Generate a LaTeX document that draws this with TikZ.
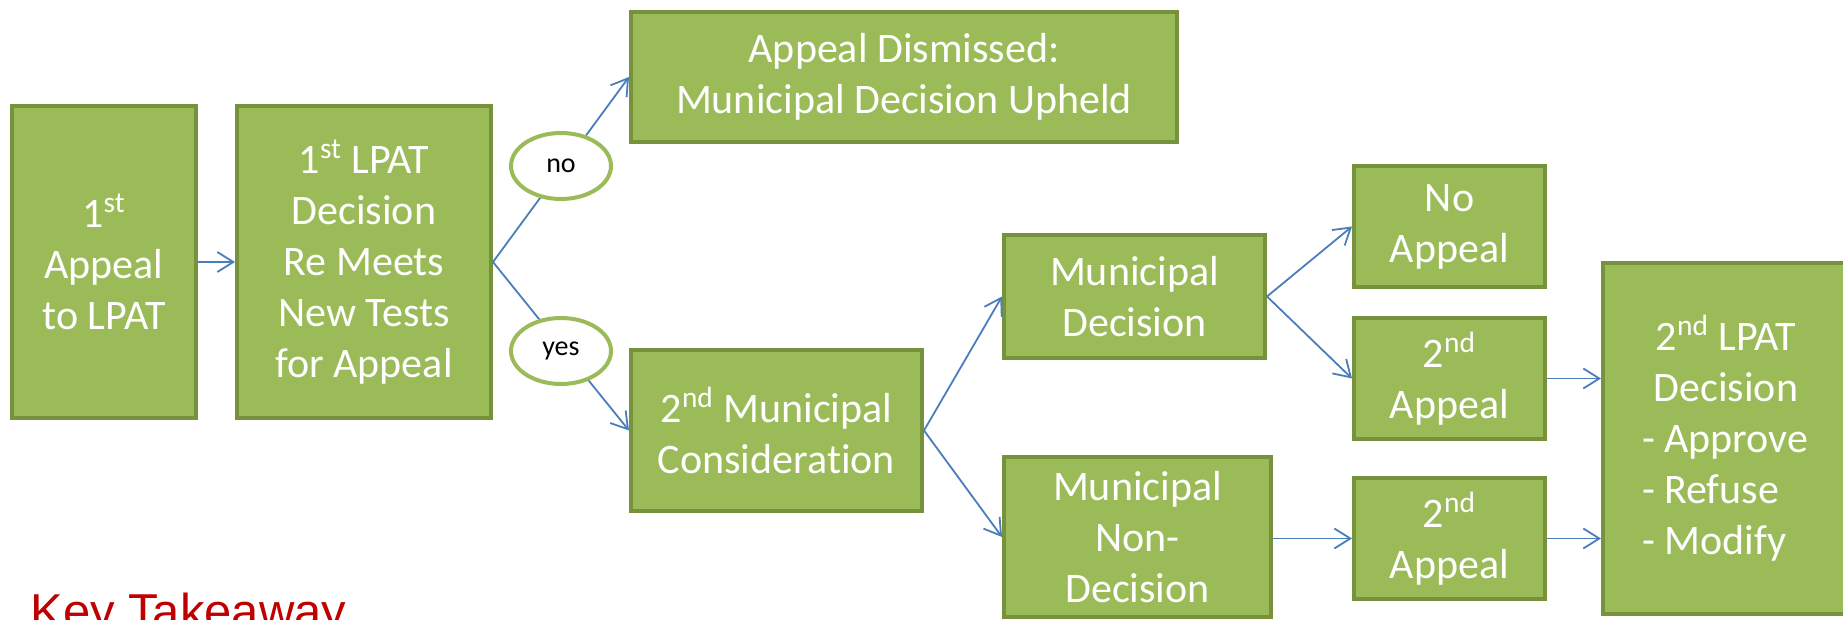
\documentclass[tikz,border=0pt]{standalone}
\usepackage{fontspec}
\setmainfont{Carlito}[Ligatures=NoCommon]
\newfontfamily\keyfont{Liberation Sans}
\usetikzlibrary{shapes.geometric,arrows.meta}
\definecolor{boxfill}{HTML}{9BBB59}
\definecolor{boxline}{HTML}{76923C}
\definecolor{arrowblue}{HTML}{4A7EBB}
\definecolor{keyred}{HTML}{C00000}
\begin{document}
\begin{tikzpicture}[x=0.5pt,y=-0.5pt,
  box/.style={draw=boxline,fill=boxfill,line width=2pt,text=white,align=center,
    font=\fontsize{21}{25.5}\selectfont,inner sep=0pt},
  choice/.style={ellipse,draw=boxfill,fill=white,line width=2pt,
    minimum width=50pt,minimum height=33pt,font=\fontsize{14}{17}\selectfont,inner sep=0pt},
  arr/.style={draw=arrowblue,line width=0.9pt,-{Straight Barb[length=8pt,width=10pt]}}]
\useasboundingbox (0,0) rectangle (1843,620);
\clip (0,0) rectangle (1843,620);

\node[box,minimum width=92pt,minimum height=156pt] (app1) at (104,262) {1\textsuperscript{st}\\Appeal\\to LPAT};
\node[box,minimum width=127pt,minimum height=156pt] (lpat1) at (364,262) {1\textsuperscript{st} LPAT\\Decision\\Re Meets\\New Tests\\for Appeal};
\node[box,minimum width=273pt,minimum height=65pt] (dismiss) at (904,77) {Appeal Dismissed:\\Municipal Decision Upheld};
\node[box,minimum width=145.5pt,minimum height=80.5pt] (cons) at (776.5,430.5) {2\textsuperscript{nd} Municipal\\Consideration};
\node[box,minimum width=130.5pt,minimum height=61.5pt] (mundec) at (1134.5,296.5) {Municipal\\Decision};
\node[box,minimum width=133.5pt,minimum height=80pt] (nondec) at (1137.5,537) {Municipal\\Non-\\Decision};
\node[box,minimum width=95.5pt,minimum height=60.5pt] (noapp) at (1449.5,226.5) {No\\Appeal};
\node[box,minimum width=95.5pt,minimum height=60.5pt] (app2a) at (1449.5,378.5) {2\textsuperscript{nd}\\Appeal};
\node[box,minimum width=95.5pt,minimum height=60.5pt] (app2b) at (1449.5,538.5) {2\textsuperscript{nd}\\Appeal};
\node[box,minimum width=123pt,minimum height=175.5pt] (lpat2) at (1726,438.5) {2\textsuperscript{nd} LPAT\\Decision\\
  \makebox[4em][l]{- Approve}\\\makebox[4em][l]{- Refuse}\\\makebox[4em][l]{- Modify}};

% connectors
\draw[arr] (app1) -- (lpat1);
\draw[arr] (lpat1.east) -- (dismiss.west);
\draw[arr] (lpat1.east) -- (cons.west);
\draw[arr] (cons.east) -- (mundec.west);
\draw[arr] (cons.east) -- (nondec.west);
\draw[arr] (mundec.east) -- (noapp.west);
\draw[arr] (mundec.east) -- (app2a.west);
\draw[arr] (nondec.east |- app2b.west) -- (app2b.west);
\draw[arr] (app2a.east) -- (app2a.east -| lpat2.west);
\draw[arr] (app2b.east) -- (app2b.east -| lpat2.west);

% yes / no labels
\node[choice] (no) at (561,166) {no};
\node[choice] (yes) at (561,351) {yes};

\node[anchor=base west,inner sep=0pt,text=keyred,font=\keyfont\fontsize{24.5}{29}\selectfont] (key) at (30,628) {Key Takeaway};
\end{tikzpicture}
\end{document}
